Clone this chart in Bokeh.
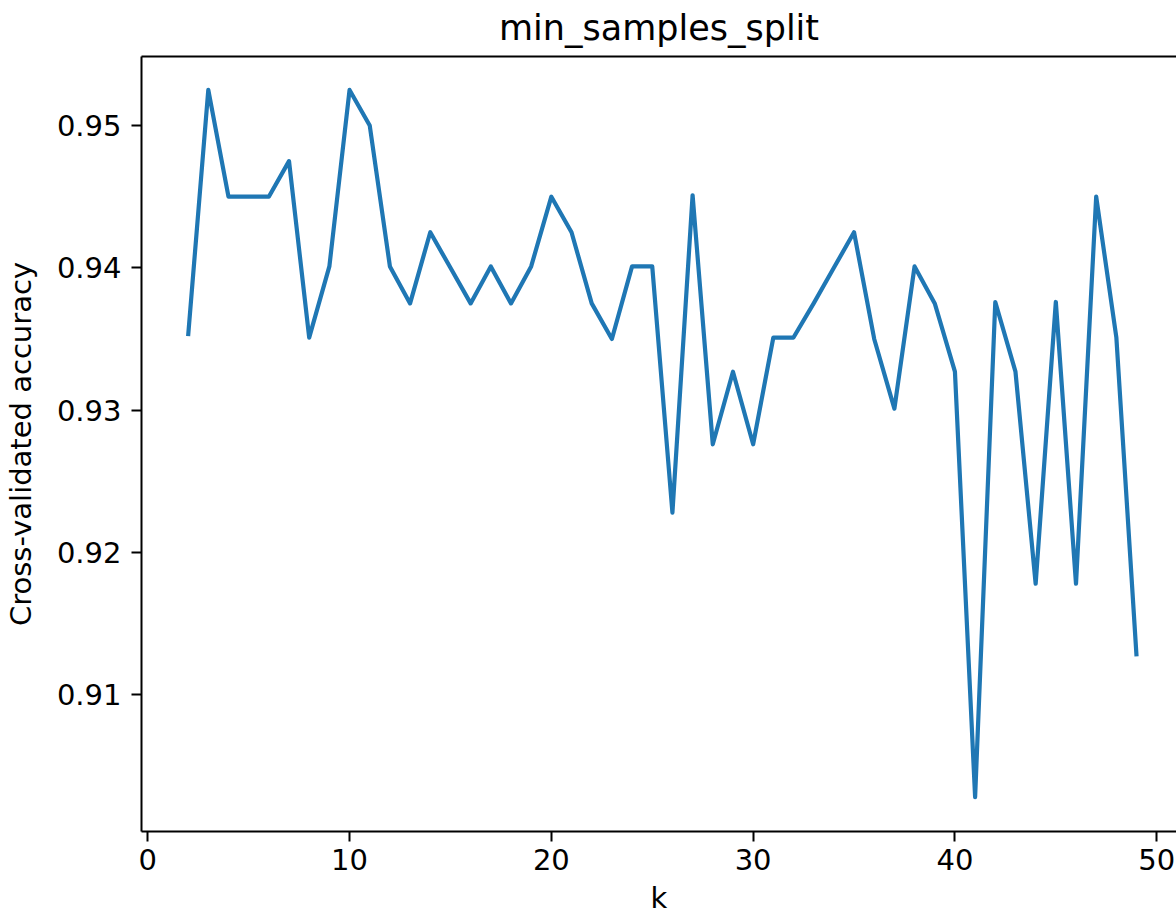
from bokeh.plotting import figure
from bokeh.models import Range1d, FixedTicker, LinearAxis, Title
from bokeh.embed import file_html
from bokeh.resources import INLINE

k_values = list(range(2, 50))
accuracy = [
    0.9352, 0.9525, 0.9450, 0.9450, 0.9450, 0.9475, 0.9351, 0.9401, 0.9525, 0.9500,
    0.9401, 0.9375, 0.9425, 0.9400, 0.9375, 0.9401, 0.9375, 0.9401, 0.9450, 0.9425,
    0.9375, 0.9350, 0.9401, 0.9401, 0.9228, 0.9451, 0.9276, 0.9327, 0.9276, 0.9351,
    0.9351, 0.9375, 0.9400, 0.9425, 0.9350, 0.9301, 0.9401, 0.9375, 0.9327, 0.9028,
    0.9376, 0.9327, 0.9178, 0.9376, 0.9178, 0.9450, 0.9351, 0.9127,
]
x_ticks = [0, 10, 20, 30, 40, 50]
y_ticks = [0.91, 0.92, 0.93, 0.94, 0.95]
title_text = "min_samples_split"
x_label = "k"
y_label = "Cross-validated accuracy"

FONT = "DejaVu Sans"

p = figure(
    width=1176, height=917,
    output_backend="svg", toolbar_location=None,
    x_range=Range1d(-0.31, 50.98), y_range=Range1d(0.90039, 0.95485),
    min_border_left=140, min_border_right=0, min_border_top=56, min_border_bottom=86,
    x_axis_type=None, y_axis_type=None,
)
p.outline_line_color = None
p.background_fill_color = "white"
p.border_fill_color = "white"

p.title = Title(text=title_text, align="center", text_font=FONT, text_font_size="35px",
                text_font_style="normal", text_color="black", standoff=14,
                vertical_align="top", offset=3)

def style_axis(ax, ticks):
    ax.ticker = FixedTicker(ticks=ticks)
    ax.major_label_text_font = FONT
    ax.major_label_text_font_size = "29px"
    ax.major_label_text_color = "black"
    ax.axis_line_color = "black"
    ax.axis_line_width = 2
    ax.major_tick_line_color = "black"
    ax.major_tick_line_width = 2
    ax.major_tick_out = 10
    ax.major_tick_in = 0
    ax.minor_tick_line_color = None
    ax.axis_label_text_font = FONT
    ax.axis_label_text_font_size = "29px"
    ax.axis_label_text_font_style = "normal"
    ax.axis_label_text_color = "black"

xaxis = LinearAxis(axis_label=x_label)
style_axis(xaxis, x_ticks)
xaxis.major_label_standoff = 7
xaxis.axis_label_standoff = 8
p.add_layout(xaxis, "below")

yaxis = LinearAxis(axis_label=y_label)
style_axis(yaxis, y_ticks)
yaxis.major_label_standoff = 10
yaxis.axis_label_standoff = 16
yaxis.major_label_overrides = {0.91: "0.91", 0.92: "0.92", 0.93: "0.93", 0.94: "0.94", 0.95: "0.95"}
p.add_layout(yaxis, "left")

top = LinearAxis(major_label_text_font_size="0px", major_tick_line_color=None,
                 minor_tick_line_color=None, axis_line_color="black", axis_line_width=2,
                 major_label_standoff=0)
top.ticker = FixedTicker(ticks=[])
p.add_layout(top, "above")

p.xgrid.visible = False
p.ygrid.visible = False

p.line(k_values, accuracy, line_color="#1f77b4", line_width=4.2, line_join="round")

open("out.html", "w").write(file_html(p, INLINE))
